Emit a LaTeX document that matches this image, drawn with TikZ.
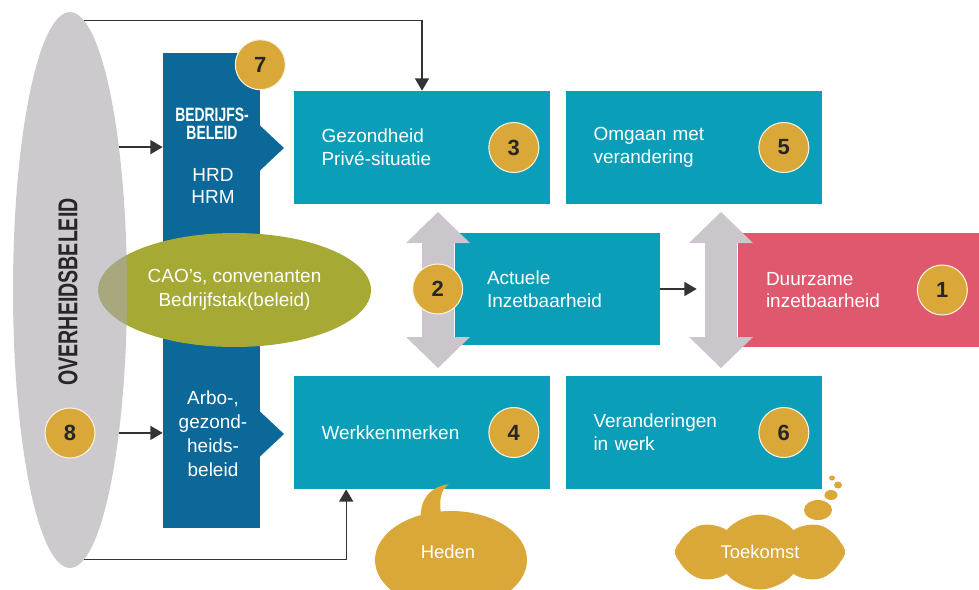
\documentclass[tikz,border=0pt]{standalone}
\usepackage{fontspec}
\setmainfont{Liberation Sans}
\newfontfamily\condfont[FakeStretch=0.72]{Liberation Sans}
\usetikzlibrary{positioning,shapes.geometric,shapes.symbols,arrows.meta}

\definecolor{gold}{RGB}{217,168,56}
\definecolor{tealbox}{RGB}{11,158,184}
\definecolor{darkblue}{RGB}{12,104,152}
\definecolor{pinkbox}{RGB}{224,88,110}
\definecolor{olive}{RGB}{166,170,52}
\definecolor{govgray}{RGB}{172,166,174}
\definecolor{twowaygray}{RGB}{203,198,204}

\tikzset{box node/.style={rectangle,fill=tealbox,text=white,minimum height=2.26cm,text width=4.02cm,inner xsep=0.56cm,align=left,font=\fontsize{10.8}{13}\selectfont}}
\tikzset{num node/.style={circle,fill=gold,draw=white!85!gold,line width=0.6pt,minimum size=1cm,inner sep=0pt,text=black!85,font=\fontsize{12.5}{13}\selectfont\bfseries}}
\tikzset{col text/.style={text=white,align=center,inner sep=0pt,font=\fontsize{10.8}{13.2}\selectfont}}
\tikzset{bubble text/.style={text=white,inner sep=0pt,font=\fontsize{10.5}{12}\selectfont}}
\tikzset{arr/.style={line width=0.75pt,draw=black!80,-{Triangle[length=7pt,width=8pt]}}}

\begin{document}
\begin{tikzpicture}[x=0.02cm,y=-0.02cm]
    \useasboundingbox (0,0) rectangle (979,589);

    % policy column with its two notches
    \node[rectangle,fill=darkblue,minimum width=1.94cm,minimum height=9.5cm,inner sep=0pt] (col) at (211.5,290.5) {};
    \foreach \cy in {148,434}
        \fill[darkblue] ([xshift=-0.5pt]col.east |- 0,{\cy-23}) -- (284,\cy) -- ([xshift=-0.5pt]col.east |- 0,{\cy+23}) -- cycle;

    \node[ellipse,fill=olive,text=white,minimum width=5.46cm,minimum height=2.28cm,align=center,font=\fontsize{10.8}{13.6}\selectfont] (cao) at (234.5,290) {CAO’s, convenanten\\Bedrijfstak(beleid)};
    \node[ellipse,fill=govgray,fill opacity=0.6,minimum width=2.28cm,minimum height=11.12cm] (gov) at (70,290) {};
    \node[rotate=90,text=black!85,font=\condfont\bfseries\fontsize{15.5}{16}\selectfont] (govt) at (68,292) {OVERHEIDSBELEID};

    \node[col text,font=\condfont\bfseries\fontsize{11}{10}\selectfont] (bedr) at (212,124) {BEDRIJFS-\\BELEID};
    \node[col text,font=\fontsize{10.8}{12.5}\selectfont] (hrd) at (213,186) {HRD\\HRM};
    \node[col text,font=\fontsize{10.8}{13.6}\selectfont] (arbo) at (213,434) {Arbo-,\\gezond-\\heids-\\beleid};

    % the boxes
    \node[box node] (gezond) at (422,147.5) {Gezondheid\\Privé-situatie};
    \node[box node] (omgaan) at (694,147.5) {Omgaan met\\verandering};
    \node[box node] (werk) at (422,432.5) {Werkkenmerken};
    \node[box node] (verand) at (694,432.5) {Veranderingen\\in werk};
    \node[box node,text width=2.82cm,inner xsep=0.64cm] (actueel) at (557.5,289) {Actuele\\Inzetbaarheid};
    \node[box node,fill=pinkbox,text width=3.7cm,minimum height=2.28cm] (duurzaam) at (858.5,290) {Duurzame\\inzetbaarheid};

    \foreach \ax in {438,721}
        \fill[twowaygray] (\ax,212) -- ({\ax+32},243) -- ({\ax+16},243) -- ({\ax+16},337) -- ({\ax+32},337)
            -- (\ax,368) -- ({\ax-32},337) -- ({\ax-16},337) -- ({\ax-16},243) -- ({\ax-32},243) -- cycle;

    % connectors
    \draw[arr] (gov.71) -- (gov.71 -| col.west);
    \draw[arr] (gov.-71) -- (gov.-71 -| col.west);
    \draw[arr] (gov.87) -| (gezond.north);
    \draw[arr] (gov.-87) -| ([xshift=1.06cm]werk.south west);
    \draw[arr] (actueel.east) -- ([xshift=-0.82cm]duurzaam.west |- actueel.east);

    % numbers
    \node[num node] (n1) at ([xshift=-0.74cm]duurzaam.east) {1};
    \node[num node] (n2) at ([xshift=-0.34cm]actueel.west) {2};
    \node[num node] (n3) at ([xshift=-0.74cm]gezond.east) {3};
    \node[num node] (n4) at ([xshift=-0.74cm]werk.east) {4};
    \node[num node] (n5) at ([xshift=-0.78cm]omgaan.east) {5};
    \node[num node] (n6) at ([xshift=-0.78cm]verand.east) {6};
    \node[num node] (n7) at ([yshift=-0.24cm]col.north east) {7};
    \node[num node] (n8) at (70,433) {8};

    % speech and thought bubbles
    \fill[gold] (421,520) .. controls (419,496) and (434,486) .. (449,484) .. controls (441,490) and (438,499) .. (442,520) -- cycle;
    \node[ellipse,fill=gold,minimum width=3.04cm,minimum height=1.96cm] (heden) at (451,560) {};
    \node[bubble text] (hedent) at (448,552) {Heden};

    \node[cloud,cloud puffs=8,cloud puff arc=100,aspect=2.4,fill=gold,minimum width=3.4cm,minimum height=1.5cm,bubble text] (toekomst) at (760,552) {Toekomst};
    \foreach \bx/\by/\rx/\ry in {818/510/0.28/0.2, 831/495/0.13/0.1, 838/485/0.08/0.07, 832/478/0.06/0.05}
        \fill[gold] (\bx,\by) ellipse [x radius=\rx cm, y radius=\ry cm];
\end{tikzpicture}
\end{document}
